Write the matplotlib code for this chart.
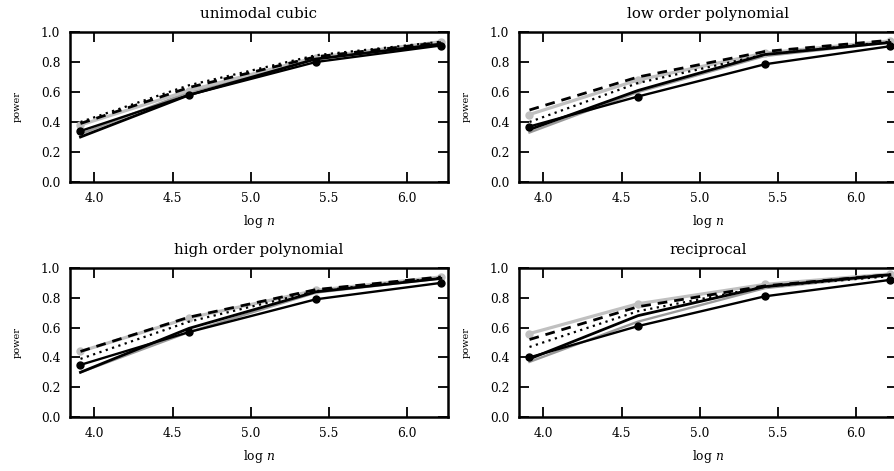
import numpy as np
import matplotlib
matplotlib.use("Agg")
import matplotlib.pyplot as plt

plt.rcParams["font.family"] = "serif"
plt.rcParams["font.serif"] = ["DejaVu Serif"]
plt.rcParams["mathtext.fontset"] = "dejavuserif"

# sample sizes, plotted on log scale
n = np.array([50, 100, 225, 500])
log_n = np.log(n)

titles = ["unimodal cubic", "low order polynomial", "high order polynomial", "reciprocal"]

# power per method, one list per panel
power_a = [[0.34, 0.58, 0.80, 0.91],
           [0.37, 0.57, 0.785, 0.905],
           [0.35, 0.57, 0.79, 0.90],
           [0.40, 0.61, 0.81, 0.92]]
power_b = [[0.30, 0.58, 0.82, 0.92],
           [0.35, 0.61, 0.85, 0.93],
           [0.30, 0.595, 0.84, 0.93],
           [0.39, 0.68, 0.875, 0.955]]
power_c = [[0.39, 0.63, 0.835, 0.93],
           [0.48, 0.70, 0.87, 0.945],
           [0.44, 0.67, 0.855, 0.94],
           [0.52, 0.74, 0.88, 0.955]]
power_d = [[0.40, 0.645, 0.845, 0.935],
           [0.40, 0.66, 0.85, 0.935],
           [0.39, 0.64, 0.845, 0.935],
           [0.47, 0.71, 0.875, 0.945]]
power_e = [[0.38, 0.61, 0.83, 0.935],
           [0.45, 0.68, 0.86, 0.94],
           [0.44, 0.665, 0.85, 0.94],
           [0.56, 0.76, 0.89, 0.96]]
power_f = [[0.32, 0.60, 0.82, 0.92],
           [0.33, 0.60, 0.84, 0.93],
           [0.30, 0.57, 0.835, 0.93],
           [0.37, 0.64, 0.865, 0.95]]

yticks = [0.0, 0.2, 0.4, 0.6, 0.8, 1.0]
xticks = [4.0, 4.5, 5.0, 5.5, 6.0]

W, H = 894, 471
fig = plt.figure(figsize=(W / 100, H / 100), dpi=100)

# panel boxes in pixels: left, right, top, bottom
boxes = [(70, 448, 32, 182), (519, 897, 32, 182),
         (70, 448, 268, 417), (519, 897, 268, 417)]

for i, (l, r, t, b) in enumerate(boxes):
    ax = fig.add_axes([l / W, 1 - b / H, (r - l) / W, (b - t) / H])
    ax.plot(log_n, power_f[i], color="#9a9a9a", lw=1.7)
    ax.plot(log_n, power_e[i], color="#c0c0c0", lw=2.3, marker="o", ms=5)
    ax.plot(log_n, power_d[i], color="black", lw=1.6, ls=(0, (1, 2.0)))
    ax.plot(log_n, power_c[i], color="black", lw=2.0, ls=(0, (3.5, 2.5)))
    ax.plot(log_n, power_b[i], color="black", lw=2.0)
    ax.plot(log_n, power_a[i], color="black", lw=1.7, marker="o", ms=5)

    ax.set_xlim(3.845, 6.26)
    ax.set_ylim(0.0, 1.0)
    ax.set_xticks(xticks)
    ax.set_yticks(yticks)
    ax.set_xticklabels(["%.1f" % v for v in xticks])
    ax.set_yticklabels(["%.1f" % v for v in yticks])
    ax.tick_params(direction="in", top=True, right=True, length=7.5,
                   width=1.3, labelsize=8.8, pad=7)
    for s in ax.spines.values():
        s.set_linewidth(1.8)
    ax.set_title(titles[i], fontsize=10.8, pad=10)
    ax.set_xlabel("log $n$", fontsize=8.8, labelpad=6)
    ax.set_ylabel("power", fontsize=7, labelpad=14)

fig.savefig("out.png", dpi=100)
